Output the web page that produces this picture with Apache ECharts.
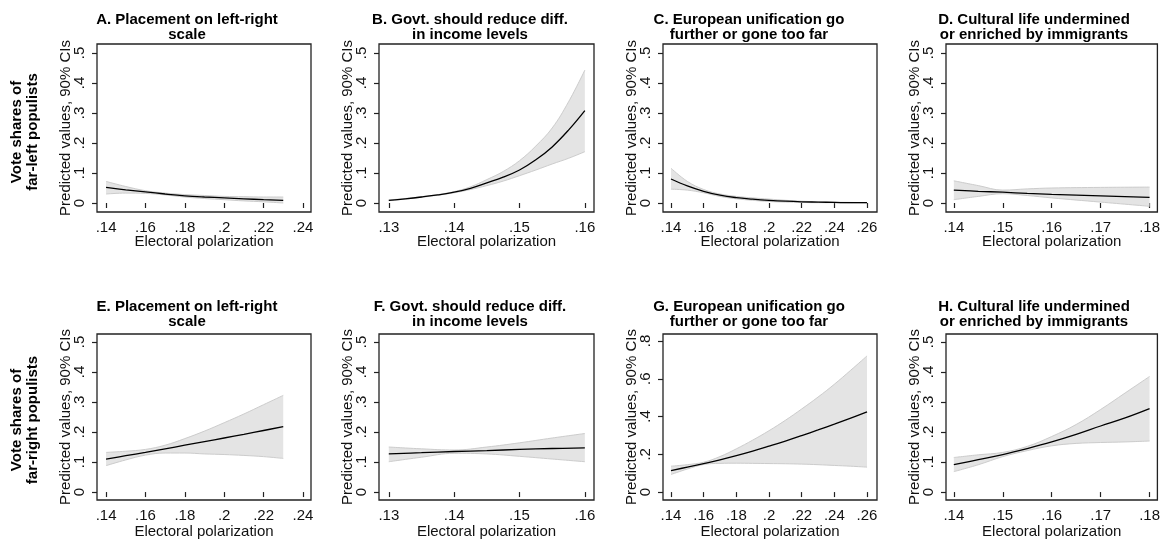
<!DOCTYPE html>
<html><head><meta charset="utf-8">
<script src="https://cdn.jsdelivr.net/npm/echarts@6/dist/echarts.min.js"></script>
<style>html,body{margin:0;padding:0;background:#fff}#c{width:1163px;height:540px}</style>
</head><body><div id="c"></div>
<script>
// ---------- DATA ----------
const rowLabels = ['Vote shares of\nfar-left populists', 'Vote shares of\nfar-right populists'];
const yAxisTitle = 'Predicted values, 90% CIs';
const xAxisTitle = 'Electoral polarization';

const titleA = 'A. Placement on left-right\nscale';
const titleB = 'B. Govt. should reduce diff.\nin income levels';
const titleC = 'C. European unification go\nfurther or gone too far';
const titleD = 'D. Cultural life undermined\nor enriched by immigrants';
const titleE = 'E. Placement on left-right\nscale';
const titleF = 'F. Govt. should reduce diff.\nin income levels';
const titleG = 'G. European unification go\nfurther or gone too far';
const titleH = 'H. Cultural life undermined\nor enriched by immigrants';

const xTicksLR = [0.14, 0.16, 0.18, 0.20, 0.22, 0.24];
const xTicksInc = [0.13, 0.14, 0.15, 0.16];
const xTicksEU = [0.14, 0.16, 0.18, 0.20, 0.22, 0.24, 0.26];
const xTicksImm = [0.14, 0.15, 0.16, 0.17, 0.18];
const yTicks5 = [0, 0.1, 0.2, 0.3, 0.4, 0.5];
const yTicks8 = [0, 0.2, 0.4, 0.6, 0.8];

// A
const xA   = [0.14, 0.15, 0.16, 0.17, 0.18, 0.19, 0.20, 0.21, 0.22, 0.23];
const fitA = [0.052, 0.044, 0.037, 0.030, 0.024, 0.020, 0.017, 0.014, 0.011, 0.009];
const loA  = [0.030, 0.033, 0.032, 0.027, 0.020, 0.015, 0.011, 0.007, 0.004, 0.000];
const hiA  = [0.072, 0.055, 0.041, 0.033, 0.028, 0.025, 0.022, 0.021, 0.020, 0.020];
// B
const xB   = [0.13, 0.1325, 0.135, 0.1375, 0.14, 0.1425, 0.145, 0.1475, 0.15, 0.1525, 0.155, 0.1575, 0.16];
const fitB = [0.009, 0.014, 0.020, 0.027, 0.036, 0.049, 0.067, 0.086, 0.110, 0.144, 0.187, 0.243, 0.308];
const loB  = [0.008, 0.013, 0.019, 0.026, 0.034, 0.045, 0.058, 0.073, 0.091, 0.110, 0.130, 0.149, 0.171];
const hiB  = [0.010, 0.015, 0.021, 0.028, 0.038, 0.054, 0.078, 0.105, 0.141, 0.190, 0.250, 0.337, 0.443];
// C
const xC   = [0.14, 0.15, 0.16, 0.17, 0.18, 0.19, 0.20, 0.21, 0.22, 0.23, 0.24, 0.25, 0.26];
const fitC = [0.080, 0.057, 0.039, 0.026, 0.018, 0.013, 0.009, 0.006, 0.004, 0.003, 0.002, 0.001, 0.001];
const loC  = [0.046, 0.043, 0.034, 0.022, 0.014, 0.009, 0.005, 0.003, 0.002, 0.001, 0.001, 0.000, 0.000];
const hiC  = [0.116, 0.072, 0.045, 0.030, 0.022, 0.017, 0.013, 0.009, 0.006, 0.004, 0.003, 0.002, 0.001];
// D
const xD   = [0.14, 0.145, 0.15, 0.155, 0.16, 0.17, 0.18];
const fitD = [0.043, 0.039, 0.036, 0.032, 0.029, 0.024, 0.019];
const loD  = [0.011, 0.022, 0.031, 0.025, 0.017, 0.003, -0.011];
const hiD  = [0.074, 0.058, 0.043, 0.047, 0.050, 0.052, 0.053];
// E
const xE   = [0.14, 0.15, 0.16, 0.17, 0.18, 0.19, 0.20, 0.21, 0.22, 0.23];
const fitE = [0.110, 0.121, 0.132, 0.144, 0.156, 0.168, 0.180, 0.192, 0.205, 0.218];
const loE  = [0.088, 0.107, 0.123, 0.130, 0.130, 0.127, 0.125, 0.122, 0.118, 0.112];
const hiE  = [0.132, 0.136, 0.142, 0.156, 0.178, 0.203, 0.231, 0.260, 0.291, 0.322];
// F
const xF   = [0.13, 0.135, 0.14, 0.145, 0.15, 0.155, 0.16];
const fitF = [0.127, 0.131, 0.135, 0.138, 0.142, 0.145, 0.147];
const loF  = [0.101, 0.116, 0.129, 0.127, 0.119, 0.110, 0.101];
const hiF  = [0.150, 0.144, 0.140, 0.150, 0.164, 0.180, 0.195];
// G
const xG   = [0.14, 0.15, 0.16, 0.17, 0.18, 0.19, 0.20, 0.21, 0.22, 0.23, 0.24, 0.25, 0.26];
const fitG = [0.114, 0.132, 0.151, 0.171, 0.193, 0.217, 0.243, 0.270, 0.299, 0.329, 0.360, 0.392, 0.425];
const loG  = [0.093, 0.122, 0.146, 0.152, 0.153, 0.152, 0.151, 0.150, 0.148, 0.145, 0.141, 0.137, 0.132];
const hiG  = [0.137, 0.145, 0.158, 0.188, 0.229, 0.275, 0.325, 0.380, 0.440, 0.503, 0.571, 0.645, 0.721];
// H
const xH   = [0.14, 0.145, 0.15, 0.155, 0.16, 0.165, 0.17, 0.175, 0.18];
const fitH = [0.091, 0.108, 0.125, 0.145, 0.167, 0.192, 0.220, 0.247, 0.278];
const loH  = [0.068, 0.091, 0.118, 0.138, 0.154, 0.162, 0.165, 0.167, 0.170];
const hiH  = [0.115, 0.124, 0.132, 0.152, 0.185, 0.225, 0.275, 0.330, 0.385];

// ---------- LAYOUT ----------
const FONT = '"Liberation Sans", Arial, Helvetica, sans-serif';
const colLeft = [97, 379, 663, 946];
const colWidth = [214, 215, 214, 213];
const colTitleX = [187, 470, 749, 1034];
const rowTop = [44, 334];
const rowHeight = [168, 167];
const rowTitleY = [12, 299];
const rowLabelY = [132, 420];
const xRanges = [[0.1354, 0.2441], [0.1285, 0.1614], [0.1351, 0.2661], [0.1384, 0.1816]];
const yRange5 = [[-0.03, 0.53], [-0.0265, 0.5265]];
const yRangeG = [-0.042, 0.837];

const panels = [
  {t: titleA, x: xA, fit: fitA, lo: loA, hi: hiA, xt: xTicksLR, yt: yTicks5},
  {t: titleB, x: xB, fit: fitB, lo: loB, hi: hiB, xt: xTicksInc, yt: yTicks5},
  {t: titleC, x: xC, fit: fitC, lo: loC, hi: hiC, xt: xTicksEU, yt: yTicks5},
  {t: titleD, x: xD, fit: fitD, lo: loD, hi: hiD, xt: xTicksImm, yt: yTicks5},
  {t: titleE, x: xE, fit: fitE, lo: loE, hi: hiE, xt: xTicksLR, yt: yTicks5},
  {t: titleF, x: xF, fit: fitF, lo: loF, hi: hiF, xt: xTicksInc, yt: yTicks5},
  {t: titleG, x: xG, fit: fitG, lo: loG, hi: hiG, xt: xTicksEU, yt: yTicks8},
  {t: titleH, x: xH, fit: fitH, lo: loH, hi: hiH, xt: xTicksImm, yt: yTicks5}
];

function fmt(v) {
  if (Math.abs(v) < 1e-9) return '0';
  let s = String(Math.round(v * 1000) / 1000);
  return s.replace(/^0\./, '.');
}

const grid = [], xAxis = [], yAxis = [], series = [], graphic = [];
const axisColor = '#222';
panels.forEach((p, i) => {
  const row = Math.floor(i / 4), col = i % 4;
  grid.push({left: colLeft[col], top: rowTop[row], width: colWidth[col], height: rowHeight[row],
    show: true, borderColor: axisColor, borderWidth: 1.3, backgroundColor: '#fff', containLabel: false});
  xAxis.push({type: 'value', gridIndex: i, min: xRanges[col][0], max: xRanges[col][1],
    axisLine: {show: false}, splitLine: {show: false},
    axisTick: {show: true, length: 5, lineStyle: {color: axisColor, width: 1.2}, customValues: p.xt},
    axisLabel: {customValues: p.xt, formatter: fmt, fontSize: 15, fontFamily: FONT, color: '#111', margin: 8},
    name: xAxisTitle, nameLocation: 'middle', nameGap: row === 0 ? 22 : 24, nameMoveOverlap: false,
    nameTextStyle: {fontSize: 15, fontFamily: FONT, color: '#111'}});
  const yr = (i === 6) ? yRangeG : yRange5[row];
  yAxis.push({type: 'value', gridIndex: i, min: yr[0], max: yr[1],
    axisLine: {show: false}, splitLine: {show: false},
    axisTick: {show: true, length: 5, lineStyle: {color: axisColor, width: 1.2}, customValues: p.yt},
    axisLabel: {customValues: p.yt, formatter: fmt, rotate: 90, fontSize: 15, fontFamily: FONT, color: '#111', margin: 10},
    name: yAxisTitle, nameLocation: 'middle', nameRotate: 90, nameGap: 24, nameMoveOverlap: false,
    nameTextStyle: {fontSize: 15, fontFamily: FONT, color: '#111'}});
  // value first, x second, so the stack acts on the y value
  const lo = p.x.map((x, k) => [p.lo[k], x]);
  const band = p.x.map((x, k) => [p.hi[k] - p.lo[k], x]);
  const fit = p.x.map((x, k) => [x, p.fit[k]]);
  const st = 'ci' + i;
  series.push({type: 'line', xAxisIndex: i, yAxisIndex: i, data: lo, encode: {x: 1, y: 0},
    stack: st, stackStrategy: 'all',
    symbol: 'none', smooth: 0.4, silent: true, lineStyle: {color: '#cccccc', width: 1}, z: 1});
  series.push({type: 'line', xAxisIndex: i, yAxisIndex: i, data: band, encode: {x: 1, y: 0},
    stack: st, stackStrategy: 'all',
    symbol: 'none', smooth: 0.4, silent: true, lineStyle: {color: '#cccccc', width: 1},
    areaStyle: {color: '#e4e4e4', opacity: 1}, z: 1});
  series.push({type: 'line', xAxisIndex: i, yAxisIndex: i, data: fit,
    symbol: 'none', smooth: 0.4, silent: true, lineStyle: {color: '#000', width: 1.3}, z: 3});
  graphic.push({type: 'text', x: colTitleX[col], y: rowTitleY[row], silent: true,
    style: {text: p.t, textAlign: 'center', textVerticalAlign: 'top', fill: '#000',
      font: 'bold 15px ' + FONT, lineHeight: 15}});
});
rowLabels.forEach((t, r) => {
  graphic.push({type: 'text', x: 25, y: rowLabelY[r], rotation: Math.PI / 2, silent: true,
    style: {text: t, textAlign: 'center', textVerticalAlign: 'middle', fill: '#000',
      font: 'bold 15px ' + FONT, lineHeight: 16}});
});

const chart = echarts.init(document.getElementById('c'), null, {renderer: 'canvas'});
chart.setOption({animation: false, backgroundColor: '#fff', grid, xAxis, yAxis, series, graphic});
</script>
</body></html>
